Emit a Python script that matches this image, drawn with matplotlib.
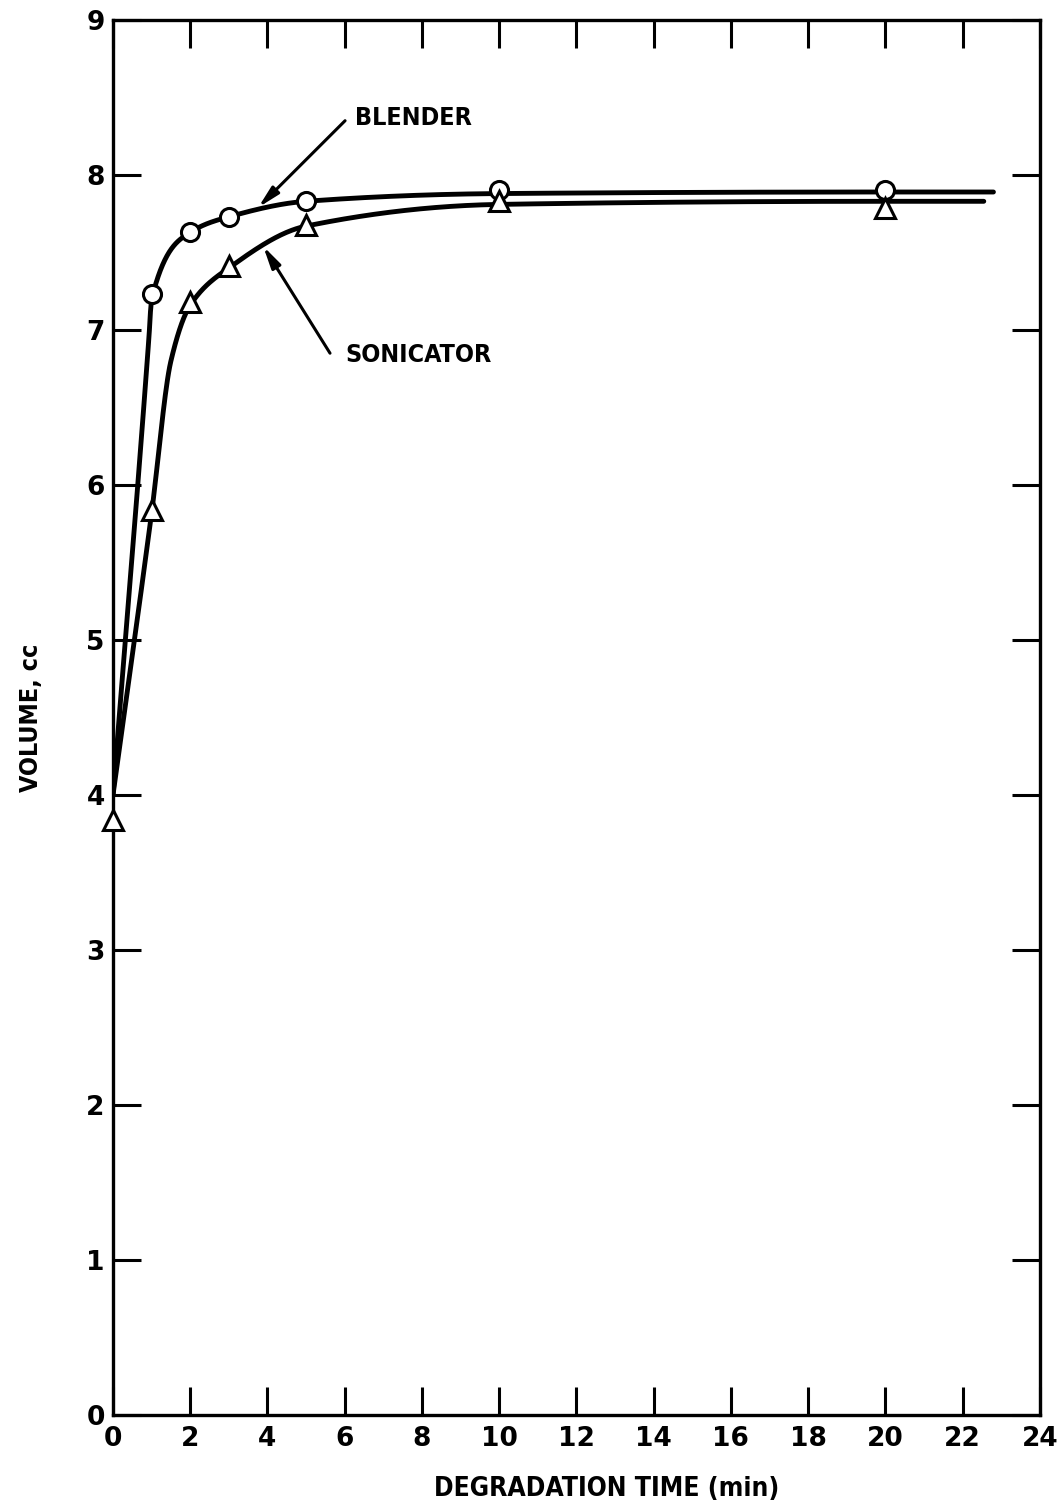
import numpy as np
import matplotlib
matplotlib.use("Agg")
import matplotlib.pyplot as plt

blender_t = [1, 2, 3, 5, 10, 20]
blender_v = [7.23, 7.63, 7.73, 7.83, 7.90, 7.90]
sonic_t = [0, 1, 2, 3, 5, 10, 20]
sonic_v = [3.84, 5.84, 7.18, 7.41, 7.68, 7.83, 7.79]

# knots of the hand-drawn smooth curves
blender_curve_t = [0, 0.93, 1, 2, 3, 5, 10, 20, 22.8]
blender_curve_v = [4.0, 6.95, 7.2, 7.63, 7.73, 7.83, 7.88, 7.89, 7.89]
sonic_curve_t = [0, 1, 1.5, 2, 3, 5, 10, 20, 22.55]
sonic_curve_v = [4.0, 5.82, 6.8, 7.16, 7.40, 7.67, 7.81, 7.83, 7.83]

x_ticks = list(range(0, 25, 2))
y_ticks = list(range(0, 10))


def pchip(xk, yk, xs):
    # monotone cubic through the knots
    xk = np.asarray(xk, float)
    yk = np.asarray(yk, float)
    h = np.diff(xk)
    d = np.diff(yk) / h
    m = np.zeros_like(yk)
    for i in range(1, len(xk) - 1):
        if d[i - 1] * d[i] > 0:
            w1 = 2 * h[i] + h[i - 1]
            w2 = h[i] + 2 * h[i - 1]
            m[i] = (w1 + w2) / (w1 / d[i - 1] + w2 / d[i])
    m[0] = d[0]
    m[-1] = d[-1]
    idx = np.clip(np.searchsorted(xk, xs) - 1, 0, len(h) - 1)
    t = (xs - xk[idx]) / h[idx]
    h00 = 2 * t**3 - 3 * t**2 + 1
    h10 = t**3 - 2 * t**2 + t
    h01 = -2 * t**3 + 3 * t**2
    h11 = t**3 - t**2
    return (h00 * yk[idx] + h10 * h[idx] * m[idx]
            + h01 * yk[idx + 1] + h11 * h[idx] * m[idx + 1])


fig = plt.figure(figsize=(10.61, 15.12), dpi=100)
ax = fig.add_axes([0.1065, 0.0642, 0.8735, 0.9226])

xs = np.linspace(0, blender_curve_t[-1], 800)
ax.plot(xs, pchip(blender_curve_t, blender_curve_v, xs), color="black", lw=3.5,
        solid_capstyle="round")
xs = np.linspace(0, sonic_curve_t[-1], 800)
ax.plot(xs, pchip(sonic_curve_t, sonic_curve_v, xs), color="black", lw=3.5,
        solid_capstyle="round")

ax.plot(blender_t, blender_v, "o", ms=13, mfc="white", mec="black", mew=2.2,
        zorder=3, clip_on=False)
ax.plot(sonic_t, sonic_v, "^", ms=15, mfc="white", mec="black", mew=2.2,
        zorder=3, clip_on=False)

font = dict(family="DejaVu Sans", weight="bold", stretch="condensed")
arrow = dict(arrowstyle="-|>,head_length=1.3,head_width=0.3",
             color="black", lw=2.2, shrinkA=0, shrinkB=0)

ax.text(6.27, 8.37, "BLENDER", fontsize=18, va="center", ha="left", **font)
ax.annotate("", xy=(3.76, 7.79), xytext=(6.01, 8.35), arrowprops=arrow)
ax.text(6.01, 6.84, "SONICATOR", fontsize=18, va="center", ha="left", **font)
ax.annotate("", xy=(3.89, 7.54), xytext=(5.62, 6.85), arrowprops=arrow)

ax.set_xlim(0, 24)
ax.set_ylim(0, 9)
ax.set_xticks(x_ticks)
ax.set_yticks(y_ticks)
ax.tick_params(direction="in", length=20, width=2.2, top=True, right=True,
               labelsize=19)
ax.tick_params(axis="x", pad=8)
ax.tick_params(axis="y", pad=6)
for lab in ax.get_xticklabels() + ax.get_yticklabels():
    lab.set_fontweight("bold")
for s in ax.spines.values():
    s.set_linewidth(2.4)

ax.set_xlabel("DEGRADATION TIME (min)", fontsize=19, **font)
ax.set_ylabel("VOLUME, cc", fontsize=18, **font)
ax.xaxis.set_label_coords(0.533, -0.044)
ax.yaxis.set_label_coords(-0.0755, 0.5)

fig.savefig("out.png", dpi=100)
